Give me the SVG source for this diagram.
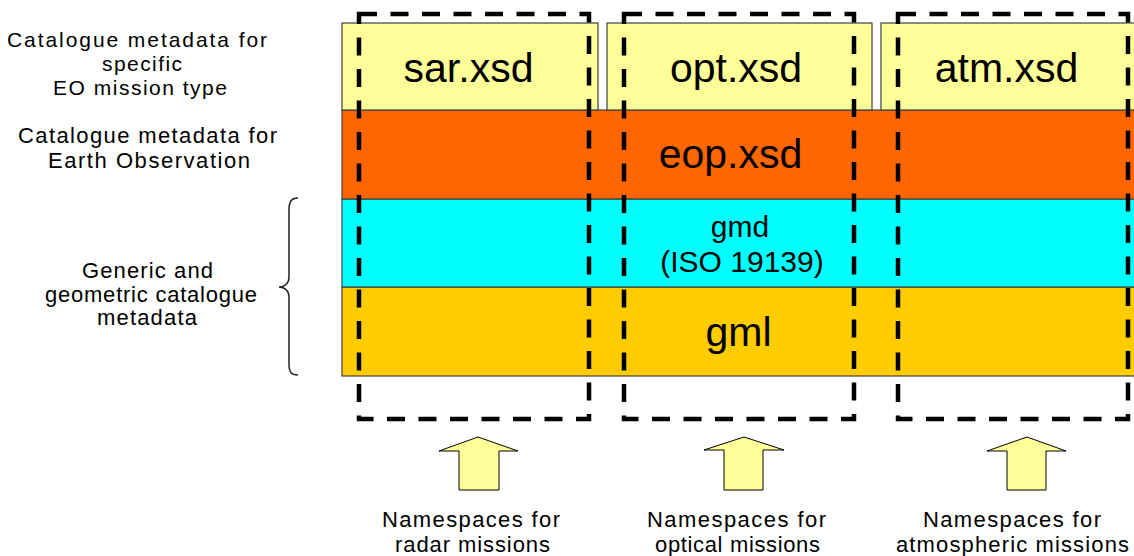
<svg xmlns="http://www.w3.org/2000/svg" width="1134" height="556" viewBox="0 0 1134 556">
<style>
.lbl{font-family:"Liberation Sans",Arial,sans-serif;font-size:22px;fill:#000;text-anchor:middle}
.sm{font-size:21px}
.big{font-family:"Liberation Sans",Arial,sans-serif;font-size:41px;fill:#000;text-anchor:middle}
.mid{font-family:"Liberation Sans",Arial,sans-serif;font-size:30px;fill:#000;text-anchor:middle}
.box{stroke:#404040;stroke-width:1.2}
.dash{fill:none;stroke:#000;stroke-width:4.5;stroke-dasharray:18 13.5}
.arrow{fill:#FFFF99;stroke:#000;stroke-width:1}
</style>
<rect width="1134" height="556" fill="#fff"/>
<g id="left-labels">
<text class="lbl sm" x="137" y="47" textLength="260" lengthAdjust="spacing">Catalogue metadata for</text>
<text class="lbl sm" x="142" y="71" textLength="80" lengthAdjust="spacing">specific</text>
<text class="lbl sm" x="140" y="95" textLength="174" lengthAdjust="spacing">EO mission type</text>
<text class="lbl" x="147.5" y="143" textLength="259" lengthAdjust="spacing">Catalogue metadata for</text>
<text class="lbl" x="149" y="168" textLength="202" lengthAdjust="spacing">Earth  Observation</text>
<text class="lbl" x="147.5" y="278" textLength="131" lengthAdjust="spacing">Generic and</text>
<text class="lbl" x="151" y="302" textLength="212" lengthAdjust="spacing">geometric catalogue</text>
<text class="lbl" x="147" y="325" textLength="100" lengthAdjust="spacing">metadata</text>
<path d="M298,198 C291,198 289,202 289,210 L289,277 C289,283 285,287 279,287 C285,287 289,291 289,297 L289,364 C289,372 291,375 298,375" fill="none" stroke="#222" stroke-width="1.5"/>
</g>
<g id="gml">
<rect class="box" x="342" y="287" width="800" height="89" fill="#FFCC00"/>
<text class="big" x="738.5" y="346">gml</text>
</g>
<g id="gmd">
<rect class="box" x="342" y="199" width="800" height="88" fill="#00FFFF"/>
<text class="mid" x="740" y="237">gmd</text>
<text class="mid" x="742" y="272">(ISO 19139)</text>
</g>
<g id="eop">
<rect class="box" x="342" y="110" width="800" height="89" fill="#FF6600"/>
<text class="big" x="730.5" y="168">eop.xsd</text>
</g>
<g id="sar">
<rect class="box" x="342" y="23" width="256" height="87" fill="#FFFF99"/>
<text class="big" x="468.5" y="82">sar.xsd</text>
</g>
<g id="opt">
<rect class="box" x="607" y="23" width="265" height="87" fill="#FFFF99"/>
<text class="big" x="736" y="82">opt.xsd</text>
</g>
<g id="atm">
<rect class="box" x="881" y="23" width="260" height="87" fill="#FFFF99"/>
<text class="big" x="1006.5" y="82">atm.xsd</text>
</g>
<g id="ns-radar">
<rect class="dash" x="359" y="14" width="230" height="405"/>
<text class="lbl" x="471" y="527" textLength="178" lengthAdjust="spacing">Namespaces  for</text>
<text class="lbl" x="472.5" y="552" textLength="155" lengthAdjust="spacing">radar missions</text>
</g>
<g id="ns-optical">
<rect class="dash" x="624" y="14" width="230" height="405"/>
<text class="lbl" x="736.5" y="527" textLength="179" lengthAdjust="spacing">Namespaces  for</text>
<text class="lbl" x="737.5" y="552" textLength="165" lengthAdjust="spacing">optical missions</text>
</g>
<g id="ns-atmospheric">
<rect class="dash" x="898" y="14" width="230" height="405"/>
<text class="lbl" x="1012" y="527" textLength="178" lengthAdjust="spacing">Namespaces  for</text>
<text class="lbl" x="1012.5" y="552" textLength="233" lengthAdjust="spacing">atmospheric missions</text>
</g>
<g id="connectors">
<polygon class="arrow" points="478,437 518,451 499,451 499,490 459,490 459,451 439,451"/>
<polygon class="arrow" points="744,437 784,450 763,450 763,490 724,490 724,450 704,450"/>
<polygon class="arrow" points="1027,437 1066,451 1046,451 1046,490 1007,490 1007,451 987,451"/>
</g>
</svg>
